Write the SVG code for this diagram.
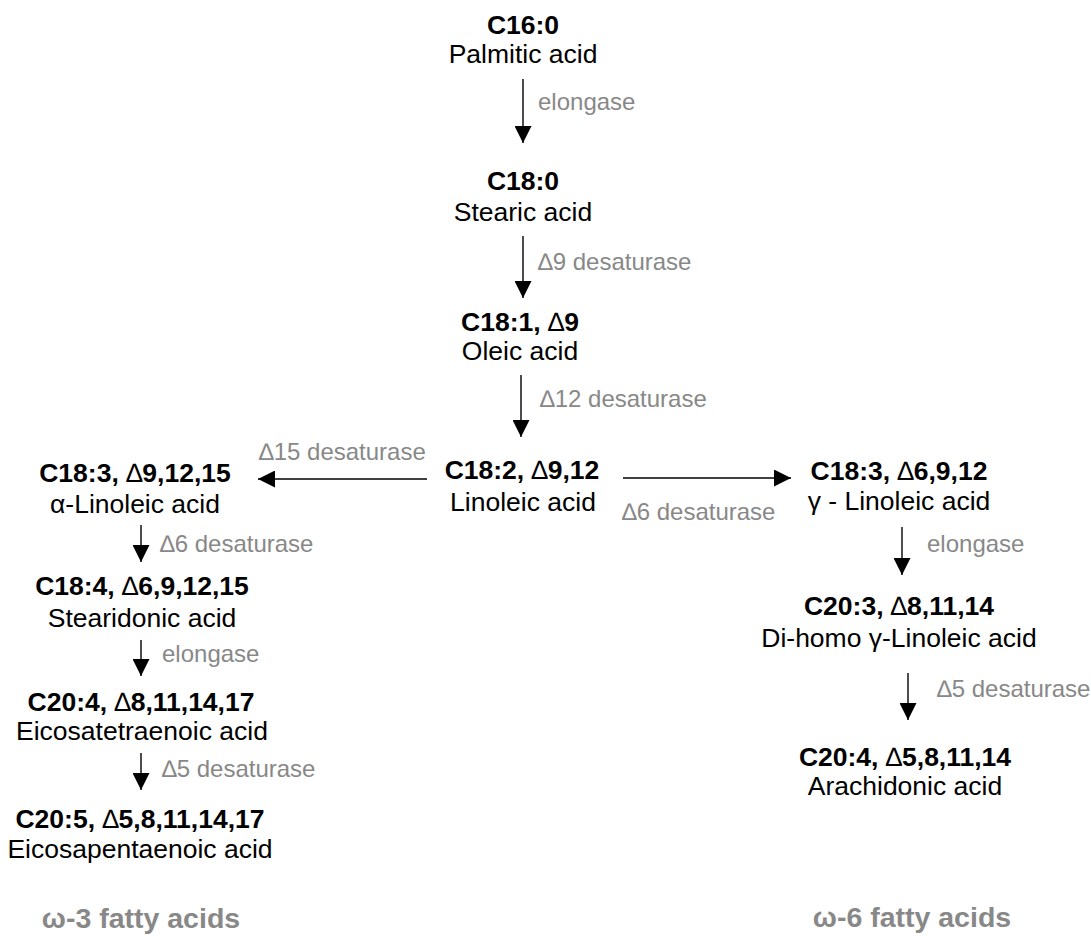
<svg xmlns="http://www.w3.org/2000/svg" width="1091" height="936" viewBox="0 0 1091 936">
<style>
text{font-family:"Liberation Sans",Arial,sans-serif}
.b{font-weight:bold;font-size:26.5px;fill:#000;text-anchor:middle}
.b tspan{font-weight:normal}
.n{font-size:26.5px;fill:#000;text-anchor:middle}
.e{font-size:24px;fill:#888}
.w{font-weight:bold;font-size:28.5px;fill:#888;text-anchor:middle}
.c line{stroke:#000;stroke-width:1.4;fill:none}
</style>
<defs>
<marker id="ah" markerUnits="userSpaceOnUse" markerWidth="17" markerHeight="17" viewBox="0 0 16 16" refX="16" refY="8" orient="auto">
<path d="M0,0 L16,8 L0,16 Z" fill="#000"/>
</marker>
</defs>
<rect width="1091" height="936" fill="#fff"/>
<g class="c" id="connectors">
<line x1="523" y1="79" x2="523" y2="143" marker-end="url(#ah)"/>
<line x1="523" y1="236" x2="523" y2="298" marker-end="url(#ah)"/>
<line x1="521" y1="375" x2="521" y2="437" marker-end="url(#ah)"/>
<line x1="427" y1="479" x2="258" y2="479" marker-end="url(#ah)"/>
<line x1="623" y1="478" x2="791" y2="478" marker-end="url(#ah)"/>
<line x1="141" y1="525" x2="141" y2="562" marker-end="url(#ah)"/>
<line x1="141" y1="640" x2="141" y2="676" marker-end="url(#ah)"/>
<line x1="141" y1="753" x2="141" y2="790" marker-end="url(#ah)"/>
<line x1="902" y1="527" x2="902" y2="575" marker-end="url(#ah)"/>
<line x1="908" y1="673" x2="908" y2="720" marker-end="url(#ah)"/>
</g>
<g id="labels">
<text class="e" x="538" y="110">elongase</text>
<text class="e" x="538" y="270">∆9 desaturase</text>
<text class="e" x="540" y="407">∆12 desaturase</text>
<text class="e" x="259" y="460">∆15 desaturase</text>
<text class="e" x="622" y="520">∆6 desaturase</text>
<text class="e" x="160" y="552">∆6 desaturase</text>
<text class="e" x="162" y="662">elongase</text>
<text class="e" x="162" y="777">∆5 desaturase</text>
<text class="e" x="927" y="552">elongase</text>
<text class="e" x="937" y="697">∆5 desaturase</text>
</g>
<g id="n1"><text class="b" x="523" y="34">C16:0</text><text class="n" x="523" y="63">Palmitic acid</text></g>
<g id="n2"><text class="b" x="523" y="190">C18:0</text><text class="n" x="523" y="221">Stearic acid</text></g>
<g id="n3"><text class="b" x="520" y="331">C18:1, <tspan>∆</tspan>9</text><text class="n" x="520" y="360">Oleic acid</text></g>
<g id="n4"><text class="b" x="522" y="479">C18:2, <tspan>∆</tspan>9,12</text><text class="n" x="523" y="511">Linoleic acid</text></g>
<g id="n5"><text class="b" x="135" y="482">C18:3, <tspan>∆</tspan>9,12,15</text><text class="n" x="135" y="513">α-Linoleic acid</text></g>
<g id="n6"><text class="b" x="142" y="595">C18:4, <tspan>∆</tspan>6,9,12,15</text><text class="n" x="142" y="627">Stearidonic acid</text></g>
<g id="n7"><text class="b" x="141" y="711">C20:4, <tspan>∆</tspan>8,11,14,17</text><text class="n" x="142" y="740">Eicosatetraenoic acid</text></g>
<g id="n8"><text class="b" x="140" y="828">C20:5, <tspan>∆</tspan>5,8,11,14,17</text><text class="n" x="140" y="858">Eicosapentaenoic acid</text></g>
<g id="n9"><text class="b" x="899" y="480">C18:3, <tspan>∆</tspan>6,9,12</text><text class="n" x="899" y="510">γ - Linoleic acid</text></g>
<g id="n10"><text class="b" x="899" y="615">C20:3, <tspan>∆</tspan>8,11,14</text><text class="n" x="899" y="647">Di-homo γ-Linoleic acid</text></g>
<g id="n11"><text class="b" x="905" y="766">C20:4, <tspan>∆</tspan>5,8,11,14</text><text class="n" x="905" y="795">Arachidonic acid</text></g>
<g id="omega3"><text class="w" x="141" y="928">ω-3 fatty acids</text></g>
<g id="omega6"><text class="w" x="912" y="927">ω-6 fatty acids</text></g>
</svg>
